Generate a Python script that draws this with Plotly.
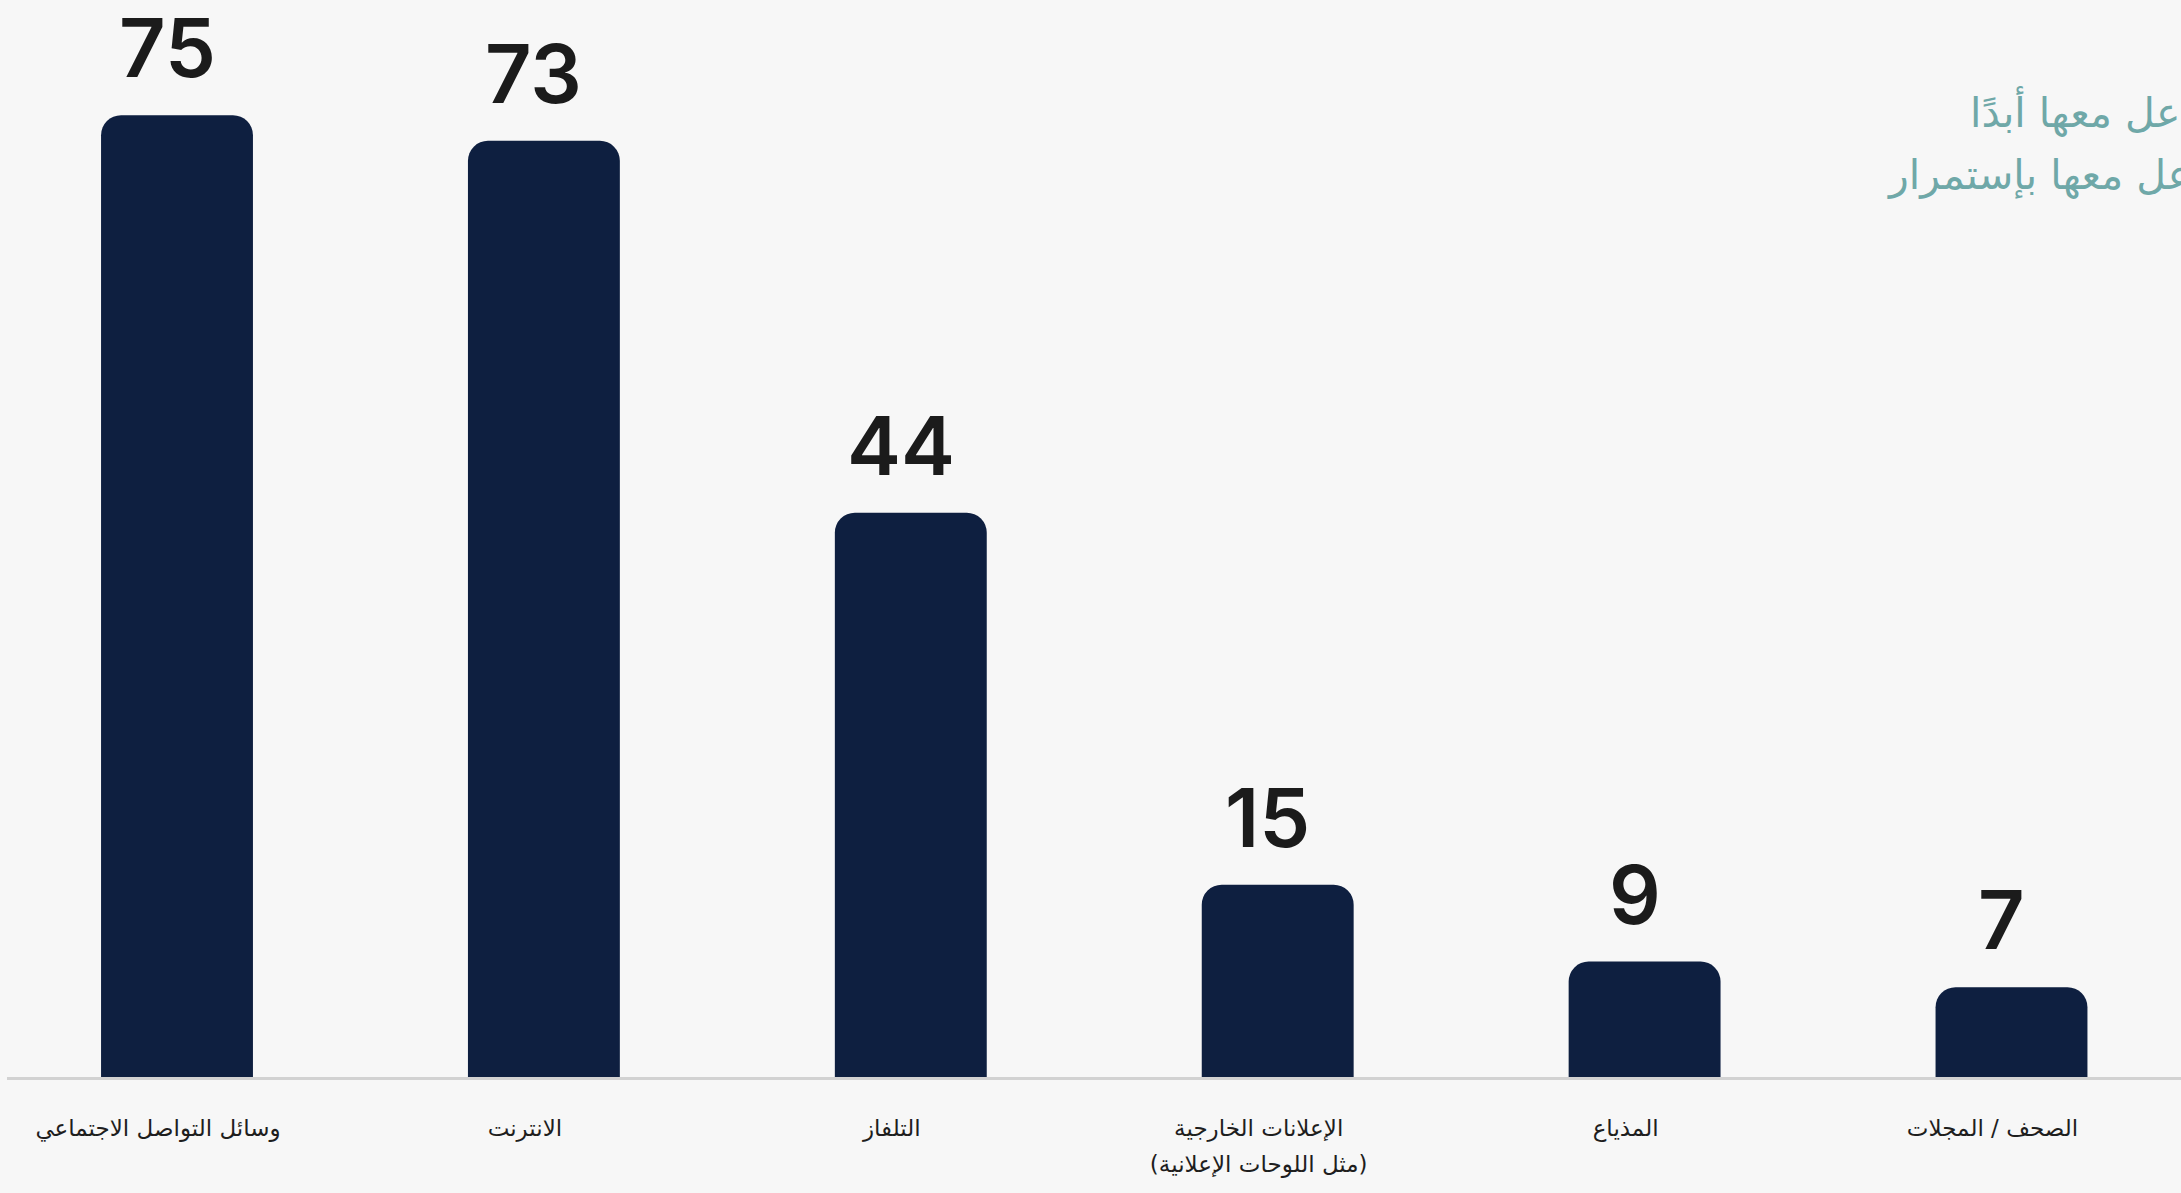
import plotly.graph_objects as go

# Media channels and share of respondents (%)
categories = [
    "وسائل التواصل الاجتماعي",
    "الانترنت",
    "التلفاز",
    "الإعلانات الخارجية<br>(مثل اللوحات الإعلانية)",
    "المذياع",
    "الصحف / المجلات",
]
values = [75, 73, 44, 15, 9, 7]
legend_labels = ["لا أتفاعل معها أبدًا", "أتفاعل معها بإستمرار"]

BG = "#f7f7f7"
BAR = "#0e1f40"
TEAL = "#6fa8a8"
ARABIC_FONT = "DejaVu Sans, Noto Sans, sans-serif"
NUM_FONT = "Inter, Lato, sans-serif"

W, H = 2181, 1193
ml, mr, mt, mb = 7, 0, 51, 116
plot_w = W - ml - mr
plot_h = H - mt - mb

fig = go.Figure()
fig.add_trace(go.Bar(
    x=list(range(len(categories))),
    y=values,
    marker=dict(color=BAR, line=dict(width=0)),
    width=0.414,
    hoverinfo="skip",
))

# value labels above each bar
for i, v in enumerate(values):
    fig.add_annotation(
        x=i, y=v, xref="x", yref="y",
        text=str(v), showarrow=False,
        xanchor="center", yanchor="bottom",
        xshift=-10, yshift=16,
        font=dict(family=NUM_FONT, size=81, color="#1b1b1b", weight=600),
    )

# series captions at the right edge (they run past the page edge)
legend_px = [(1968, 111), (1885, 173)]
for (px, py), txt in zip(legend_px, legend_labels):
    fig.add_annotation(
        x=(px - ml) / plot_w, y=(H - mb - py) / plot_h,
        xref="paper", yref="paper",
        text=txt, showarrow=False,
        xanchor="left", yanchor="middle",
        font=dict(family=ARABIC_FONT, size=41, color=TEAL),
    )

x0 = -(177 - ml) / 366.9
x1 = x0 + plot_w / 366.9

# tick labels: larger base size gives wider line spacing, inner span sets glyph size
ticktext = ['<span style="font-size:23px">' + c.replace("<br>", '</span><br><span style="font-size:23px">') + "</span>"
            for c in categories]

fig.update_layout(
    width=W, height=H,
    margin=dict(l=ml, r=mr, t=mt, b=mb, pad=0),
    paper_bgcolor=BG, plot_bgcolor=BG,
    showlegend=False,
    barcornerradius=20,
    xaxis=dict(
        range=[x0, x1],
        tickmode="array",
        tickvals=list(range(len(categories))),
        ticktext=ticktext,
        showgrid=False, zeroline=False,
        showline=True, linecolor="#d2d2d2", linewidth=3,
        ticks="", ticklabelshift=-19, ticklabelstandoff=22,
        tickfont=dict(family=ARABIC_FONT, size=28, color="#1e1e1e"),
        fixedrange=True,
    ),
    yaxis=dict(
        range=[0, 80],
        visible=False, showgrid=False, zeroline=False,
        fixedrange=True,
    ),
)

fig.write_html("out.html")
